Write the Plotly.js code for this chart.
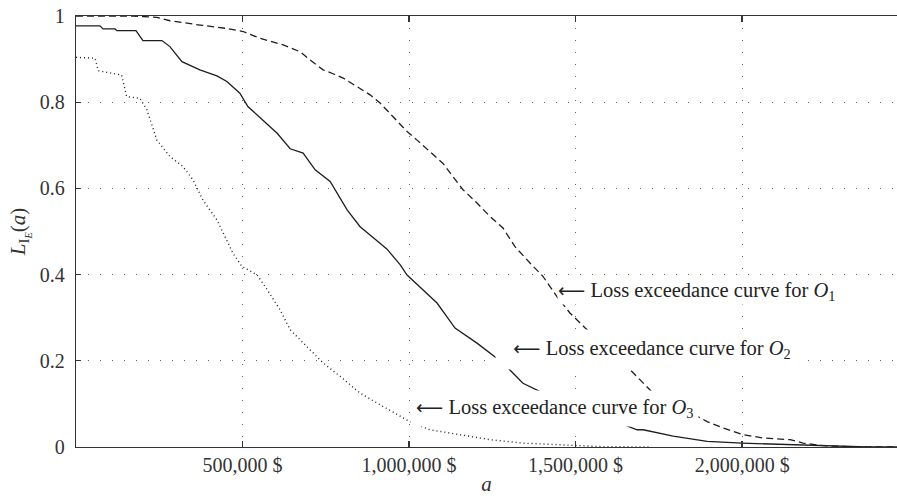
<!DOCTYPE html>
<html>
<head>
<meta charset="utf-8">
<script src="https://cdn.plot.ly/plotly-3.0.1.min.js"></script>
<style>html,body{margin:0;padding:0;background:#fff;}#chart{width:897px;height:496px;}</style>
</head>
<body>
<div id="chart"></div>
<script>
// Loss exceedance curve for O1 (dashed)
const aO1 = [0, 171000, 243000, 282000, 372000, 453000, 502000, 553000, 622000, 673000, 703000, 742000, 772000, 802000, 844000, 883000, 913000, 943000, 994000, 1024000, 1063000, 1102000, 1132000, 1162000, 1204000, 1243000, 1282000, 1318000, 1363000, 1402000, 1444000, 1483000, 1529000, 1664000, 1733000, 1895000, 1943000, 2000000, 2063000, 2144000, 2183000, 2243000, 2345000, 2465000];
const lO1 = [1.000, 1.000, 0.997, 0.989, 0.979, 0.971, 0.964, 0.948, 0.933, 0.917, 0.898, 0.875, 0.866, 0.856, 0.836, 0.817, 0.798, 0.774, 0.732, 0.712, 0.685, 0.658, 0.627, 0.597, 0.566, 0.535, 0.508, 0.465, 0.427, 0.396, 0.349, 0.311, 0.276, 0.179, 0.125, 0.059, 0.044, 0.029, 0.021, 0.017, 0.009, 0.003, 0.000, 0.000];

// Loss exceedance curve for O2 (solid)
const aO2 = [0, 72000, 81000, 117000, 123000, 180000, 201000, 258000, 282000, 318000, 372000, 423000, 453000, 492000, 516000, 561000, 604000, 643000, 682000, 718000, 763000, 814000, 853000, 892000, 934000, 973000, 994000, 1084000, 1138000, 1204000, 1282000, 1342000, 1414000, 1685000, 1703000, 1793000, 1895000, 2000000, 2144000, 2243000, 2375000, 2465000];
const lO2 = [0.977, 0.977, 0.970, 0.970, 0.966, 0.966, 0.943, 0.943, 0.929, 0.894, 0.875, 0.861, 0.848, 0.821, 0.790, 0.759, 0.728, 0.692, 0.682, 0.643, 0.616, 0.550, 0.511, 0.486, 0.459, 0.423, 0.399, 0.334, 0.276, 0.241, 0.195, 0.148, 0.121, 0.040, 0.040, 0.025, 0.013, 0.009, 0.005, 0.002, 0.000, 0.000];

// Loss exceedance curve for O3 (dotted)
const aO3 = [0, 57000, 67000, 137000, 152000, 192000, 213000, 243000, 282000, 321000, 351000, 381000, 423000, 462000, 471000, 498000, 544000, 574000, 613000, 643000, 703000, 742000, 793000, 853000, 922000, 1009000, 1063000, 1144000, 1243000, 1342000, 1444000, 1498000, 1574000, 1724000];
const lO3 = [0.904, 0.902, 0.873, 0.863, 0.813, 0.809, 0.782, 0.712, 0.674, 0.651, 0.620, 0.573, 0.527, 0.465, 0.450, 0.419, 0.399, 0.365, 0.318, 0.272, 0.226, 0.195, 0.164, 0.125, 0.094, 0.056, 0.040, 0.029, 0.017, 0.009, 0.005, 0.003, 0.001, 0.000];

const xTickVals = [500000, 1000000, 1500000, 2000000];
const xTickText = ["500,000 $", "1,000,000 $", "1,500,000 $", "2,000,000 $"];

const arrow = '<span style="font-family:DejaVu Sans;font-size:19px">\u27F5</span>';
const labels = [
  arrow + " Loss exceedance curve for <i>O</i><sub>1</sub>",
  "  " + arrow + " Loss exceedance curve for <i>O</i><sub>2</sub>",
  arrow + " Loss exceedance curve for <i>O</i><sub>3</sub>"
];

const ink = "#1e1e1e";
const font = "Liberation Serif";

const traces = [
  {x: aO1, y: lO1, mode: "lines", line: {color: ink, width: 1.3, dash: "7px,4px"}, hoverinfo: "skip"},
  {x: aO2, y: lO2, mode: "lines", line: {color: ink, width: 1.3}, hoverinfo: "skip"},
  {x: aO3, y: lO3, mode: "lines", line: {color: ink, width: 1.4, dash: "1px,3px"}, hoverinfo: "skip"}
];

const layout = {
  width: 897, height: 496,
  margin: {l: 76, r: 0, t: 16, b: 49},
  paper_bgcolor: "#fff", plot_bgcolor: "#fff",
  showlegend: false,
  font: {family: font, color: "#222", size: 20},
  xaxis: {
    range: [0, 2465000],
    tickvals: xTickVals, ticktext: xTickText,
    ticks: "inside", ticklen: 6, tickcolor: "#333", tickwidth: 1.3,
    showline: true, linecolor: "#333", linewidth: 1.3, mirror: "ticks",
    showgrid: true, gridcolor: "#666", gridwidth: 1, griddash: "1px,11px",
    zeroline: false,
    tickfont: {family: font, size: 20, color: "#333"},
    title: {text: "<i>a</i>", font: {family: font, size: 21, color: "#333"}, standoff: 3}
  },
  yaxis: {
    range: [0, 1],
    tickvals: [0, 0.2, 0.4, 0.6, 0.8, 1],
    ticktext: ["0", "0.2", "0.4", "0.6", "0.8", "1"],
    ticks: "inside", ticklen: 5, tickcolor: "#333", tickwidth: 1.3,
    showline: true, linecolor: "#333", linewidth: 1.3, mirror: false,
    showgrid: true, gridcolor: "#666", gridwidth: 1, griddash: "1px,11px",
    zeroline: false,
    tickfont: {family: font, size: 20, color: "#333"},
    ticklabelstandoff: 6,
    title: {text: "<i>L</i><sub>I<sub><i>E</i></sub></sub>(<i>a</i>)", font: {family: font, size: 21, color: "#333"}, standoff: 8}
  },
  annotations: [
    {x: 1444000, y: 0.360, xref: "x", yref: "y", xanchor: "left", yanchor: "middle", text: labels[0], showarrow: false,
     font: {family: font, size: 20.5, color: "#222"}, bgcolor: "#fff", borderpad: 0},
    {x: 1258000, y: 0.226, xref: "x", yref: "y", xanchor: "left", yanchor: "middle", text: labels[1], showarrow: false,
     font: {family: font, size: 20.5, color: "#222"}, bgcolor: "#fff", borderpad: 7},
    {x: 1003000, y: 0.089, xref: "x", yref: "y", xanchor: "left", yanchor: "middle", text: labels[2], showarrow: false,
     font: {family: font, size: 20.5, color: "#222"}, bgcolor: "#fff", borderpad: 5}
  ]
};

Plotly.newPlot("chart", traces, layout, {staticPlot: true, displayModeBar: false});
</script>
</body>
</html>
